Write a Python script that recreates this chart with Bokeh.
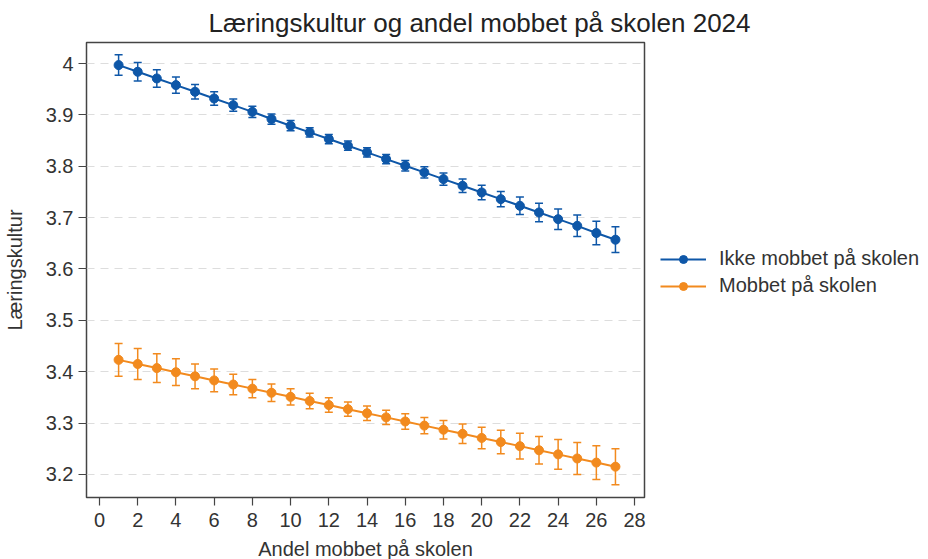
from bokeh.plotting import figure
from bokeh.models import ColumnDataSource, Whisker, TeeHead, Legend, LegendItem, FixedTicker, Range1d
from bokeh.embed import file_html
from bokeh.resources import INLINE

andel = list(range(1, 28))
ikke_mobbet = [3.997, 3.984, 3.971, 3.958, 3.945, 3.932, 3.919, 3.906, 3.892, 3.879,
               3.866, 3.853, 3.840, 3.827, 3.814, 3.801, 3.788, 3.775, 3.762, 3.749,
               3.736, 3.723, 3.710, 3.697, 3.684, 3.670, 3.657]
ikke_err = [0.020, 0.018, 0.017, 0.016, 0.014, 0.013, 0.012, 0.011, 0.010, 0.010,
            0.009, 0.009, 0.009, 0.009, 0.009, 0.010, 0.011, 0.012, 0.013, 0.014,
            0.015, 0.017, 0.018, 0.020, 0.021, 0.023, 0.025]
mobbet = [3.423, 3.415, 3.407, 3.399, 3.391, 3.383, 3.375, 3.367, 3.359, 3.351,
          3.343, 3.335, 3.327, 3.319, 3.311, 3.303, 3.295, 3.287, 3.279, 3.271,
          3.263, 3.255, 3.247, 3.239, 3.231, 3.223, 3.215]
mobbet_err = [0.032, 0.030, 0.028, 0.026, 0.024, 0.022, 0.020, 0.018, 0.017, 0.016,
              0.015, 0.014, 0.014, 0.014, 0.014, 0.015, 0.016, 0.018, 0.019, 0.021,
              0.023, 0.025, 0.027, 0.029, 0.031, 0.033, 0.035]
x_ticks = list(range(0, 29, 2))
y_ticks = [3.2, 3.3, 3.4, 3.5, 3.6, 3.7, 3.8, 3.9, 4.0]

BLUE = "#0e57a8"
ORANGE = "#f28a1e"
FONT = "Liberation Sans"
TXT = "#333333"

p = figure(frame_width=558, frame_height=455, output_backend="svg", toolbar_location=None,
           x_range=Range1d(-0.68, 28.52), y_range=Range1d(3.155, 4.041),
           min_border_left=83, min_border_top=42, min_border_bottom=40, min_border_right=287)

p.title.text = "Læringskultur og andel mobbet på skolen 2024"
p.title.text_font = FONT
p.title.text_font_size = "26px"
p.title.text_font_style = "normal"
p.title.text_color = "#222222"
p.title.align = "left"
p.title.offset = 122
p.title.standoff = 10

p.outline_line_color = "#444444"
p.outline_line_width = 1.5
p.xgrid.grid_line_color = None
p.ygrid.grid_line_color = "#dddddd"
p.ygrid.grid_line_dash = "8 6"
p.ygrid.ticker = FixedTicker(ticks=y_ticks)

p.xaxis.ticker = FixedTicker(ticks=x_ticks)
p.yaxis.ticker = FixedTicker(ticks=y_ticks)
p.yaxis.major_label_overrides = {4: "4"}
for ax in (p.xaxis, p.yaxis):
    ax.axis_line_color = None
    ax.major_tick_line_color = "#444444"
    ax.major_tick_line_width = 1.2
    ax.major_tick_out = 8
    ax.major_tick_in = 0
    ax.minor_tick_line_color = None
    ax.major_label_text_font = FONT
    ax.major_label_text_font_size = "20px"
    ax.major_label_text_color = TXT
    ax.axis_label_text_font = FONT
    ax.axis_label_text_font_size = "20px"
    ax.axis_label_text_font_style = "normal"
    ax.axis_label_text_color = TXT
p.xaxis.axis_label = "Andel mobbet på skolen"
p.yaxis.axis_label = "Læringskultur"
p.yaxis.major_label_standoff = 5
p.xaxis.major_label_standoff = 7
p.xaxis.axis_label_standoff = 8
p.yaxis.axis_label_standoff = 17

src_b = ColumnDataSource(dict(x=andel, y=ikke_mobbet,
                              lo=[v - e for v, e in zip(ikke_mobbet, ikke_err)],
                              hi=[v + e for v, e in zip(ikke_mobbet, ikke_err)]))
src_o = ColumnDataSource(dict(x=andel, y=mobbet,
                              lo=[v - e for v, e in zip(mobbet, mobbet_err)],
                              hi=[v + e for v, e in zip(mobbet, mobbet_err)]))

items = []
for src, col, name in ((src_b, BLUE, "Ikke mobbet på skolen"), (src_o, ORANGE, "Mobbet på skolen")):
    w = Whisker(source=src, base="x", lower="lo", upper="hi", line_color=col, line_width=1.5,
                upper_head=TeeHead(size=8, line_color=col, line_width=1.5),
                lower_head=TeeHead(size=8, line_color=col, line_width=1.5))
    p.add_layout(w)
    ln = p.line("x", "y", source=src, line_color=col, line_width=2)
    sc = p.scatter("x", "y", source=src, size=9, fill_color=col, line_color=col)
    items.append(LegendItem(label=name, renderers=[ln, sc]))

legend = Legend(items=items, location=(16, 200), glyph_width=46, glyph_height=20,
                label_height=20, spacing=4, margin=0, padding=0, label_standoff=13,
                label_text_font=FONT, label_text_font_size="20px", label_text_color=TXT,
                border_line_color=None, background_fill_alpha=0)
p.add_layout(legend, "right")

open("out.html", "w").write(file_html(p, INLINE))
